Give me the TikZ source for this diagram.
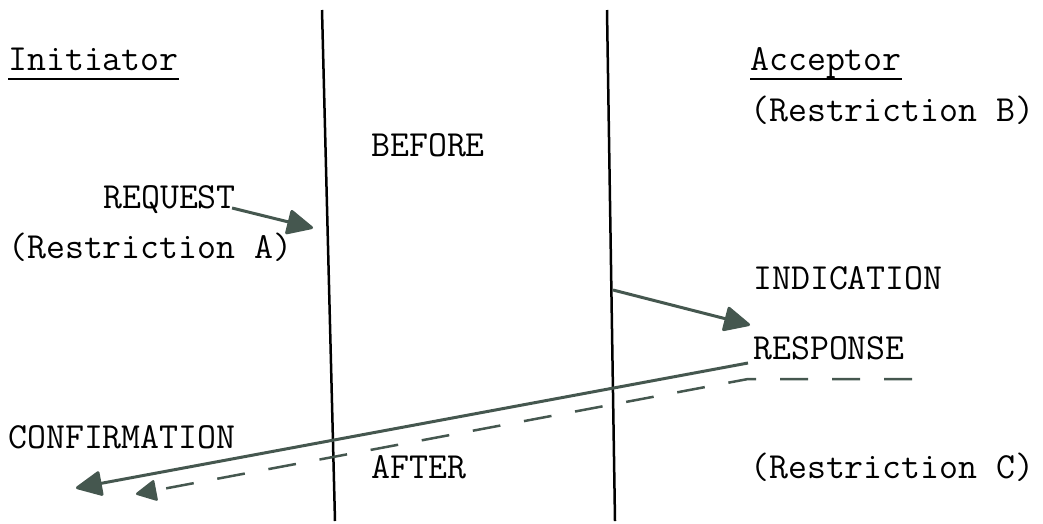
\documentclass[tikz,border=0pt]{standalone}
\usetikzlibrary{arrows.meta}
\definecolor{pen}{HTML}{45574F}
\begin{document}
\begin{tikzpicture}[x=1pt,y=-1pt,font=\ttfamily\fontsize{36.8}{40}\selectfont,
  lbl/.style={anchor=base west,inner sep=0pt},
  life/.style={draw=black,line width=2.5pt},
  msg/.style={draw=pen,line width=3pt,-{Triangle[length=28pt,width=26pt,round]}},
  reply/.style={draw=pen,line width=2.5pt,dash pattern=on 28pt off 24pt,
    -{Triangle[length=22pt,width=22pt,round]}}]
  \useasboundingbox (0,0) rectangle (1043,523);
  % the two boundaries
  \coordinate (top1) at (322,10); \coordinate (bot1) at (335,521);
  \coordinate (top2) at (607,10); \coordinate (bot2) at (615,521);
  \draw[life] (top1) -- (bot1);
  \draw[life] (top2) -- (bot2);
  % labels
  \node[lbl] (init) at (8,70) {Initiator};
  \node[lbl] (acc) at (750,70) {Acceptor};
  \draw[line width=2pt] ([yshift=-9pt]init.base west) -- ([yshift=-9pt]init.base east);
  \draw[line width=2pt] ([yshift=-9pt]acc.base west) -- ([yshift=-9pt]acc.base east);
  \node[lbl] (resb) at (750,121) {(Restriction B)};
  \node[lbl] (before) at (371,156) {BEFORE};
  \node[lbl] (req) at (103,208) {REQUEST};
  \node[lbl] (resa) at (8,258) {(Restriction A)};
  \node[lbl] (ind) at (753,289) {INDICATION};
  \node[lbl] (rsp) at (753,359) {RESPONSE};
  \node[lbl] (cnf) at (8,448) {CONFIRMATION};
  \node[lbl] (after) at (371,478) {AFTER};
  \node[lbl] (resc) at (750,478) {(Restriction C)};
  % primitives
  \coordinate (reqtip) at (313,228);
  \coordinate (indfrom) at (613,290); \coordinate (indtip) at (750,325);
  \coordinate (rspfrom) at (748,363); \coordinate (cnftip) at (76,488);
  \coordinate (dashend) at (912,379); \coordinate (dashknee) at (748,379);
  \coordinate (dashtip) at (136,494);
  \draw[msg] ([xshift=-4pt]req.base east) -- (reqtip);
  \draw[msg] (indfrom) -- (indtip);
  \draw[msg] (rspfrom) -- (cnftip);
  \draw[reply] (dashend) -- (dashknee) -- (dashtip);
\end{tikzpicture}
\end{document}
